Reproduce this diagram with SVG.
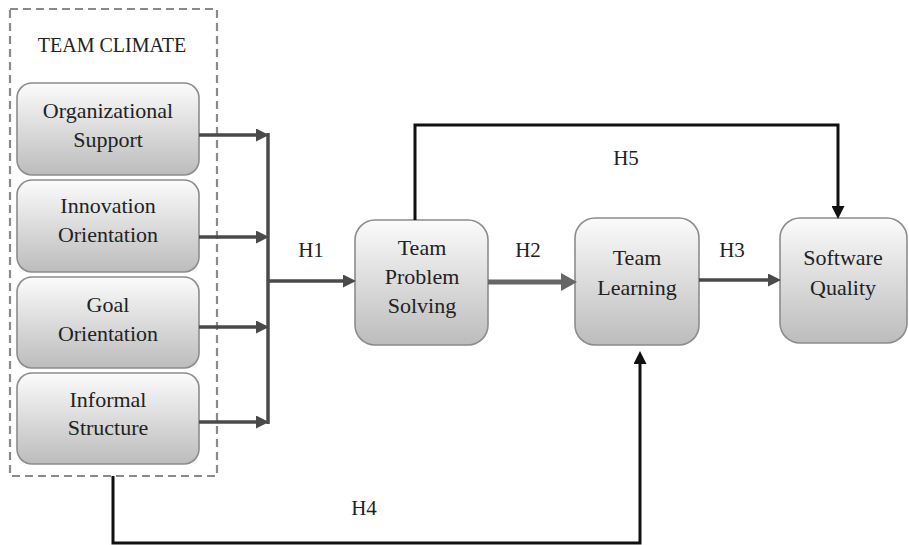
<svg xmlns="http://www.w3.org/2000/svg" width="909" height="545" viewBox="0 0 909 545">
<style>
.box{fill:url(#g);stroke:#8c8c8c;stroke-width:1.6}
text{font-family:"Liberation Serif","Times New Roman",serif;fill:#222;text-anchor:middle}
.t{font-size:22px}
.h{font-size:21px}
.dk{fill:none;stroke:#4a4a4a;stroke-width:3.5}
.bk{fill:none;stroke:#111;stroke-width:3}
</style>
<defs>
<linearGradient id="g" x1="0" y1="0" x2="0" y2="1">
<stop offset="0" stop-color="#fbfbfb"/>
<stop offset="1" stop-color="#bcbcbc"/>
</linearGradient>
<marker id="ad" markerUnits="userSpaceOnUse" markerWidth="13" markerHeight="13" refX="6" refY="6.5" orient="auto"><path d="M0,0 L13,6.5 L0,13 z" fill="#4a4a4a"/></marker>
<marker id="a2" markerUnits="userSpaceOnUse" markerWidth="16" markerHeight="18" refX="7" refY="9" orient="auto"><path d="M0,0 L16,9 L0,18 z" fill="#666"/></marker>
<marker id="ab" markerUnits="userSpaceOnUse" markerWidth="13" markerHeight="13" refX="6" refY="6.5" orient="auto"><path d="M0,0 L13,6.5 L0,13 z" fill="#111"/></marker>
</defs>
<rect width="909" height="545" fill="#fff"/>

<g id="team-climate">
<rect x="10" y="9" width="207" height="467" fill="none" stroke="#8a8a8a" stroke-width="2.2" stroke-dasharray="8,5"/>
<text x="112" y="52" font-family="Liberation Serif, serif" font-size="20">TEAM CLIMATE</text>
</g>

<g id="org-support" font-family="Liberation Serif, serif">
<rect class="box" x="17" y="83" width="182" height="92" rx="15"/>
<text class="t" x="108" y="118">Organizational</text>
<text class="t" x="108" y="147">Support</text>
</g>
<g id="innovation">
<rect class="box" x="17" y="180" width="182" height="92" rx="15"/>
<text class="t" x="108" y="213">Innovation</text>
<text class="t" x="108" y="242">Orientation</text>
</g>
<g id="goal">
<rect class="box" x="17" y="277" width="182" height="91" rx="15"/>
<text class="t" x="108" y="312">Goal</text>
<text class="t" x="108" y="341">Orientation</text>
</g>
<g id="informal">
<rect class="box" x="17" y="373" width="182" height="91" rx="15"/>
<text class="t" x="108" y="407">Informal</text>
<text class="t" x="108" y="435">Structure</text>
</g>
<g id="problem-solving">
<rect class="box" x="355" y="220" width="133" height="125" rx="20"/>
<text class="t" x="422" y="255">Team</text>
<text class="t" x="422" y="284">Problem</text>
<text class="t" x="422" y="313">Solving</text>
</g>
<g id="team-learning">
<rect class="box" x="575" y="218" width="124" height="127" rx="20"/>
<text class="t" x="637" y="265">Team</text>
<text class="t" x="637" y="295">Learning</text>
</g>
<g id="software-quality">
<rect class="box" x="780" y="218" width="127" height="125" rx="20"/>
<text class="t" x="843" y="265">Software</text>
<text class="t" x="843" y="295">Quality</text>
</g>

<g id="connectors">
<line class="dk" x1="199" y1="135" x2="262" y2="135" marker-end="url(#ad)"/>
<line class="dk" x1="199" y1="237" x2="262" y2="237" marker-end="url(#ad)"/>
<line class="dk" x1="199" y1="327" x2="262" y2="327" marker-end="url(#ad)"/>
<line class="dk" x1="199" y1="422" x2="262" y2="422" marker-end="url(#ad)"/>
<line class="dk" x1="268" y1="133" x2="268" y2="424"/>
<line class="dk" x1="268" y1="281" x2="349" y2="281" marker-end="url(#ad)"/>
<line x1="488" y1="282" x2="568" y2="282" stroke="#666" stroke-width="5" marker-end="url(#a2)"/>
<line class="dk" x1="699" y1="280" x2="774" y2="280" marker-end="url(#ad)"/>
<polyline class="bk" points="415,220 415,125 838,125 838,212" marker-end="url(#ab)"/>
<polyline class="bk" points="113,476 113,543 640,543 640,358" marker-end="url(#ab)"/>
</g>

<g id="labels">
<text class="h" x="311" y="257">H1</text>
<text class="h" x="528" y="257">H2</text>
<text class="h" x="732" y="257">H3</text>
<text class="h" x="626" y="165">H5</text>
<text class="h" x="364" y="515">H4</text>
</g>
</svg>
